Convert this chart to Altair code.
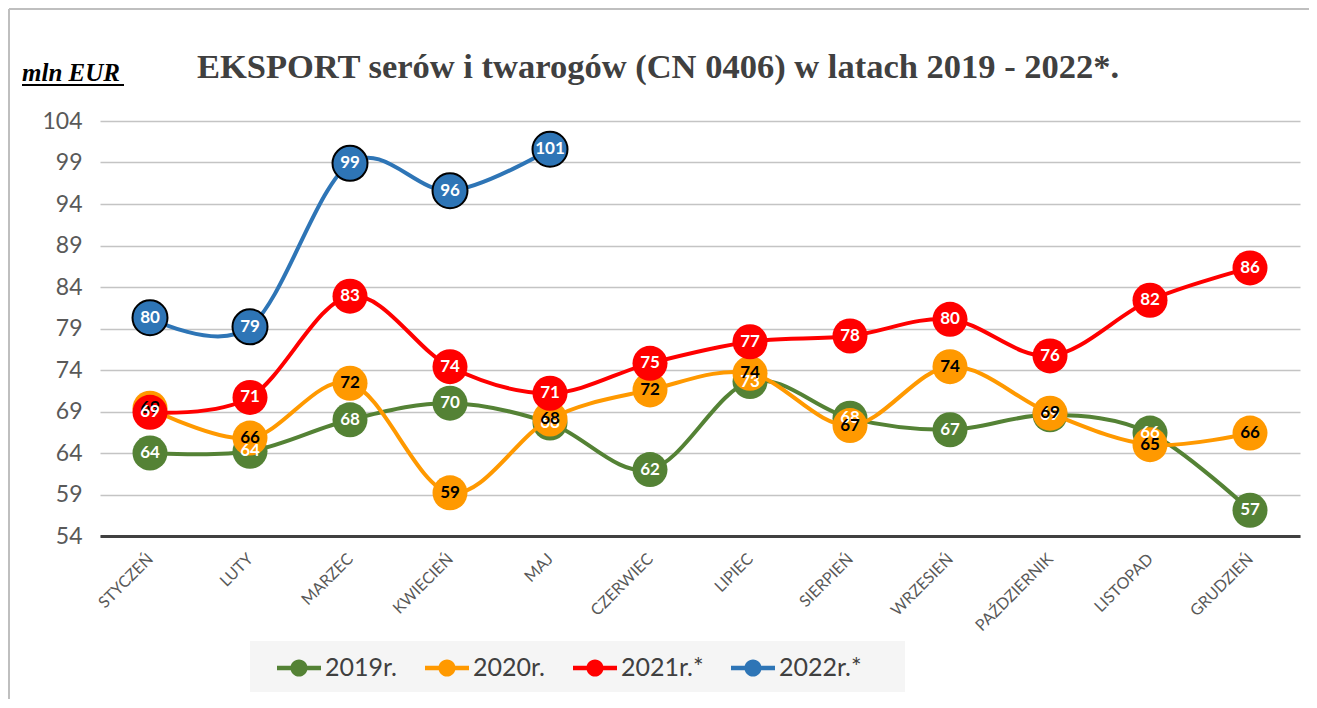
import altair as alt
import pandas as pd

months = ["STYCZEŃ", "LUTY", "MARZEC", "KWIECIEŃ", "MAJ", "CZERWIEC", "LIPIEC",
          "SIERPIEŃ", "WRZESIEŃ", "PAŹDZIERNIK", "LISTOPAD", "GRUDZIEŃ"]
series_names = ["2019r.", "2020r.", "2021r.*", "2022r.*"]

v2019 = [64.0, 64.2, 68.0, 70.0, 67.6, 62.0, 72.6, 68.2, 66.8, 68.6, 66.4, 57.1]
v2020 = [69.4, 65.8, 72.4, 59.2, 68.1, 71.6, 73.6, 67.3, 74.4, 68.8, 65.0, 66.4]
v2021 = [68.9, 70.7, 82.9, 74.4, 71.2, 74.8, 77.4, 78.1, 80.1, 75.7, 82.4, 86.3]
v2022 = [80.3, 79.2, 98.9, 95.6, 100.6]

series_colors = ["#548235", "#FF9900", "#FF0000", "#2E75B6"]
label_colors = ["white", "black", "white", "white"]
outline_colors = ["#548235", "#FF9900", "#FF0000", "#000000"]
outline_widths = [0, 0, 0, 2]

y_ticks = [54, 59, 64, 69, 74, 79, 84, 89, 94, 99, 104]
title_text = "EKSPORT serów i twarogów (CN 0406) w latach 2019 - 2022*."
unit_text = "mln EUR"

rows = []
for name, vals, lc in zip(series_names, [v2019, v2020, v2021, v2022], label_colors):
    for m, v in zip(months, vals):
        rows.append({"month": m, "series": name, "value": v, "labelcolor": lc})
df = pd.DataFrame(rows)
one = pd.DataFrame({"a": [0]})

x_enc = alt.X("month:N", sort=months,
              scale=alt.Scale(type="point", padding=0.5),
              axis=alt.Axis(title=None, labelAngle=-45, labelAlign="right",
                            labelBaseline="middle", labelFont="Lato",
                            labelFontSize=16, labelColor="#595959",
                            domainColor="#404040", domainWidth=3,
                            ticks=False, tickSize=0, labelPadding=20, grid=False))
y_enc = alt.Y("value:Q", scale=alt.Scale(domain=[54, 104], nice=False, zero=False),
              axis=alt.Axis(title=None, values=y_ticks, labelFont="Lato",
                            labelFontSize=23, labelColor="#595959", domain=False,
                            ticks=False, tickSize=0, labelPadding=18,
                            gridColor="#c4c4c4", gridWidth=1.5))

legend_path = ("M-1,-0.1L1,-0.1L1,0.1L-1,0.1Z "
               "M-0.39,0A0.39,0.39,0,1,1,0.39,0A0.39,0.39,0,1,1,-0.39,0Z")
legend = alt.Legend(title=None, orient="none", legendX=177, legendY=525,
                    direction="horizontal", columns=4, symbolType=legend_path,
                    symbolSize=1936, symbolStrokeWidth=0, symbolOpacity=1,
                    labelFont="Lato", labelFontSize=25, labelColor="#404040",
                    labelOffset=4, columnPadding=27, padding=0, rowPadding=0)
color_scale = alt.Scale(domain=series_names, range=series_colors)

layers = []

# legend background box
layers.append(alt.Chart(one).mark_rect(color="#f5f5f5").encode(
    x=alt.value(150), x2=alt.value(805), y=alt.value(520), y2=alt.value(571)))
# outer frame lines
layers.append(alt.Chart(one).mark_rule(color="#bfbfbf", strokeWidth=2).encode(
    x=alt.value(-91), x2=alt.value(1215), y=alt.value(-112), y2=alt.value(-112)))
layers.append(alt.Chart(one).mark_rule(color="#bfbfbf", strokeWidth=2).encode(
    x=alt.value(-91), x2=alt.value(-91), y=alt.value(-112), y2=alt.value(580)))
# title and unit
layers.append(alt.Chart(one).mark_text(
    text=title_text, font="Liberation Serif", fontSize=34.5, fontWeight="bold",
    color="#404040", align="center", baseline="alphabetic").encode(
    x=alt.value(558), y=alt.value(-43)))
layers.append(alt.Chart(one).mark_text(
    text=unit_text, font="Liberation Serif", fontSize=25, fontWeight="bold",
    fontStyle="italic", color="#000000", align="left", baseline="alphabetic").encode(
    x=alt.value(-78), y=alt.value(-40)))
layers.append(alt.Chart(one).mark_rule(color="#000000", strokeWidth=2).encode(
    x=alt.value(-78), x2=alt.value(24), y=alt.value(-36), y2=alt.value(-36)))

for i, name in enumerate(series_names):
    base = alt.Chart(df).transform_filter(alt.datum.series == name)
    layers.append(base.mark_line(interpolate="cardinal", strokeWidth=4, opacity=1,
                                 color=series_colors[i]).encode(x=x_enc, y=y_enc))
    layers.append(base.mark_circle(size=1225, opacity=1,
                                   stroke=outline_colors[i],
                                   strokeWidth=outline_widths[i]).encode(
        x=x_enc, y=y_enc,
        color=alt.Color("series:N", scale=color_scale, legend=legend)))

layers.append(alt.Chart(df).mark_text(font="Lato", fontWeight="bold", fontSize=17,
                                      baseline="middle", align="center").encode(
    x=x_enc, y=y_enc,
    text=alt.Text("value:Q", format=".0f"),
    color=alt.Color("labelcolor:N", scale=None)))

chart = alt.layer(*layers).properties(
    width=1200, height=415,
    autosize=alt.AutoSizeParams(type="none"),
    padding={"left": 92, "top": 113, "right": 9, "bottom": 163},
    background="white",
).configure_view(stroke=None)

chart.save("out.html", embed_options={"renderer": "svg", "actions": False})
